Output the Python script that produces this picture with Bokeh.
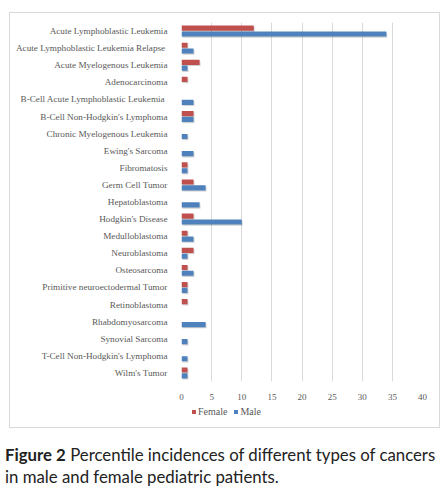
from bokeh.plotting import figure
from bokeh.layouts import column, row
from bokeh.models import (ColumnDataSource, Range1d, FixedTicker, Legend, LegendItem, Div, Spacer)
from bokeh.transform import dodge
from bokeh.embed import file_html
from bokeh.resources import INLINE

categories = [
    "Acute Lymphoblastic Leukemia",
    "Acute Lymphoblastic Leukemia  Relapse",
    "Acute Myelogenous Leukemia",
    "Adenocarcinoma",
    "B-Cell  Acute Lymphoblastic Leukemia",
    "B-Cell Non-Hodgkin's Lymphoma",
    "Chronic Myelogenous Leukemia",
    "Ewing's Sarcoma",
    "Fibromatosis",
    "Germ Cell Tumor",
    "Hepatoblastoma",
    "Hodgkin's Disease",
    "Medulloblastoma",
    "Neuroblastoma",
    "Osteosarcoma",
    "Primitive neuroectodermal Tumor",
    "Retinoblastoma",
    "Rhabdomyosarcoma",
    "Synovial Sarcoma",
    "T-Cell Non-Hodgkin's Lymphoma",
    "Wilm's Tumor",
]
female = [12, 1, 3, 1, 0, 2, 0, 0, 1, 2, 0, 2, 1, 2, 1, 1, 1, 0, 0, 0, 1]
male = [34, 2, 1, 0, 2, 2, 1, 2, 1, 4, 3, 10, 2, 1, 2, 1, 0, 4, 1, 1, 1]
x_ticks = [0, 5, 10, 15, 20, 25, 30, 35, 40]
series_names = ["Female", "Male"]
series_colors = ["#C0504D", "#4F81BD"]
caption_bold = "Figure 2"
caption_line1 = "Percentile incidences of different types of cancers"
caption_line2 = "in male and female pediatric patients."

n = len(categories)
source = ColumnDataSource(dict(
    y=list(range(n)), cat=categories, female=female, male=male,
))

p = figure(width=429, height=389, output_backend="svg", toolbar_location=None,
           x_range=Range1d(0, 40), y_range=Range1d(n - 0.5, -0.5),
           min_border_left=171, min_border_right=17, min_border_top=9,
           min_border_bottom=20)
p.outline_line_color = None
p.background_fill_color = "white"
p.border_fill_color = "white"

label_font = "Liberation Serif"
# soft drop shadows
p.hbar(y=dodge("y", -0.10, range=p.y_range), right=dodge("female", 0.15), left=0.15,
       height=0.3, source=source, fill_color="black", fill_alpha=0.18, line_color=None)
p.hbar(y=dodge("y", 0.24, range=p.y_range), right=dodge("male", 0.15), left=0.15,
       height=0.3, source=source, fill_color="black", fill_alpha=0.18, line_color=None)
p.hbar(y=dodge("y", -0.17, range=p.y_range), right="female", left=0, height=0.3,
       source=source, fill_color=series_colors[0], line_color=None)
p.hbar(y=dodge("y", 0.17, range=p.y_range), right="male", left=0, height=0.3,
       source=source, fill_color=series_colors[1], line_color=None)

# axes
p.yaxis.ticker = FixedTicker(ticks=list(range(n)))
p.yaxis.major_label_overrides = {i: c for i, c in enumerate(categories)}
p.yaxis.axis_line_color = None
p.yaxis.major_tick_line_color = None
p.yaxis.minor_tick_line_color = None
p.yaxis.major_label_standoff = 8
p.yaxis.major_label_text_font = label_font
p.yaxis.major_label_text_font_size = "9.2px"
p.yaxis.major_label_text_color = "#595959"

p.xaxis.ticker = FixedTicker(ticks=x_ticks)
p.xaxis.axis_line_color = None
p.xaxis.major_tick_line_color = None
p.xaxis.minor_tick_line_color = None
p.xaxis.major_label_standoff = 6
p.xaxis.major_label_text_font = label_font
p.xaxis.major_label_text_font_size = "9px"
p.xaxis.major_label_text_color = "#595959"

p.xgrid.ticker = FixedTicker(ticks=x_ticks)
p.xgrid.grid_line_color = "#d9d9d9"
p.ygrid.grid_line_color = None

# legend strip (its own small figure; its bars sit outside the visible range)
lf = figure(width=429, height=25, output_backend="svg", toolbar_location=None,
            x_range=Range1d(0, 1), y_range=Range1d(1000, 1001),
            min_border_left=171, min_border_right=17, min_border_top=0,
            min_border_bottom=0)
lf.axis.visible = False
lf.grid.visible = False
lf.outline_line_color = None
lf.border_fill_color = "white"
g_f = lf.hbar(y="y", right="female", left=0, height=0.3, source=source,
              fill_color=series_colors[0], line_color=None)
g_m = lf.hbar(y="y", right="male", left=0, height=0.3, source=source,
              fill_color=series_colors[1], line_color=None)
legend = Legend(items=[LegendItem(label=series_names[0], renderers=[g_f]),
                       LegendItem(label=series_names[1], renderers=[g_m])],
                orientation="horizontal", location=(10, 10),
                glyph_width=5, glyph_height=5, label_standoff=2, spacing=6,
                padding=0, margin=0, label_height=10,
                border_line_color=None, background_fill_alpha=0,
                label_text_font=label_font, label_text_font_size="10px",
                label_text_color="#595959")
lf.add_layout(legend, "center")

chart = column(p, lf, spacing=0, styles={"border": "1px solid #d9d9d9"})

caption = Div(text=f"<b>{caption_bold}</b> {caption_line1}<br>{caption_line2}",
              width=448, height=60,
              styles={"font-family": "Lato", "font-size": "16.8px", "line-height": "22px",
                      "color": "#222222", "padding-top": "11px",
                      "white-space": "nowrap"})

layout = column(Spacer(height=12), row(Spacer(width=9), chart, spacing=0), caption,
                spacing=0)
open("out.html", "w").write(file_html(layout, INLINE))
